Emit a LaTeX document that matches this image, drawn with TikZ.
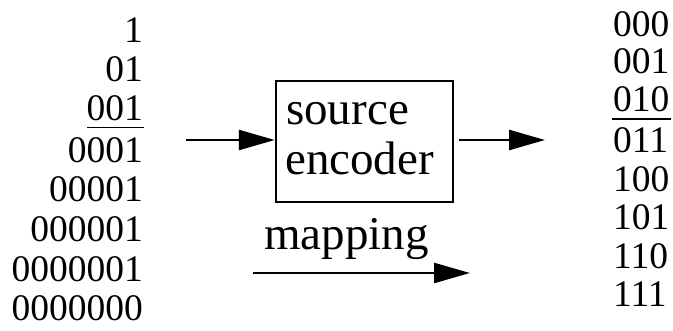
\documentclass[tikz,border=0pt]{standalone}
\usepackage{fontspec}
\setmainfont{Liberation Serif}
\usetikzlibrary{arrows.meta}
\begin{document}
\begin{tikzpicture}[x=1pt,y=1pt,
  digit/.style={inner sep=0pt,font=\fontsize{37.5}{40}\selectfont},
  lcol/.style={digit,anchor=base east},
  rcol/.style={digit,anchor=base west},
  label/.style={inner sep=0pt,font=\fontsize{47}{50}\selectfont},
  conn/.style={line width=2.5pt,-{Triangle[length=36pt,width=20pt]}},
  boxed/.style={draw,line width=2.5pt,minimum width=177pt,minimum height=121pt,inner sep=0pt}]
\useasboundingbox (0,0) rectangle (673,-331);
% left column
\node[lcol] (l1) at (143,-43) {1};
\node[lcol] (l2) at (143,-82) {01};
\node[lcol] (l3) at (143,-121) {001};
\node[lcol] (l4) at (143,-163) {0001};
\node[lcol] (l5) at (143,-202) {00001};
\node[lcol] (l6) at (143,-242) {000001};
\node[lcol] (l7) at (143,-282) {0000001};
\node[lcol] (l8) at (143,-321) {0000000};
\draw[line width=1.5pt] (87,-127.5) -- (144,-127.5);
% right column
\node[rcol] (r1) at (613,-37) {000};
\node[rcol] (r2) at (613,-74) {001};
\node[rcol] (r3) at (613,-112) {010};
\node[rcol] (r4) at (613,-153) {011};
\node[rcol] (r5) at (613,-192) {100};
\node[rcol] (r6) at (613,-230) {101};
\node[rcol] (r7) at (613,-269) {110};
\node[rcol] (r8) at (613,-307) {111};
\draw[line width=2.5pt] (612,-119) -- (671,-119);
% encoder box
\node[boxed] (enc) at (364.5,-141.5) {};
\node[label,anchor=base west] (src) at (286,-125) {source};
\node[label,anchor=base west] (encl) at (285,-175) {encoder};
\coordinate (in) at (186,-140);
\coordinate (out) at (545,-140);
\draw[conn] (in) -- (in -| enc.west);
\draw[conn] (enc.east |- out) ++(5,0) -- (out);
% mapping
\node[label,anchor=base west] (map) at (264,-250) {mapping};
\coordinate (ms) at (253,-273);
\coordinate (me) at (470,-273);
\draw[conn] (ms) -- (me);
\end{tikzpicture}
\end{document}
